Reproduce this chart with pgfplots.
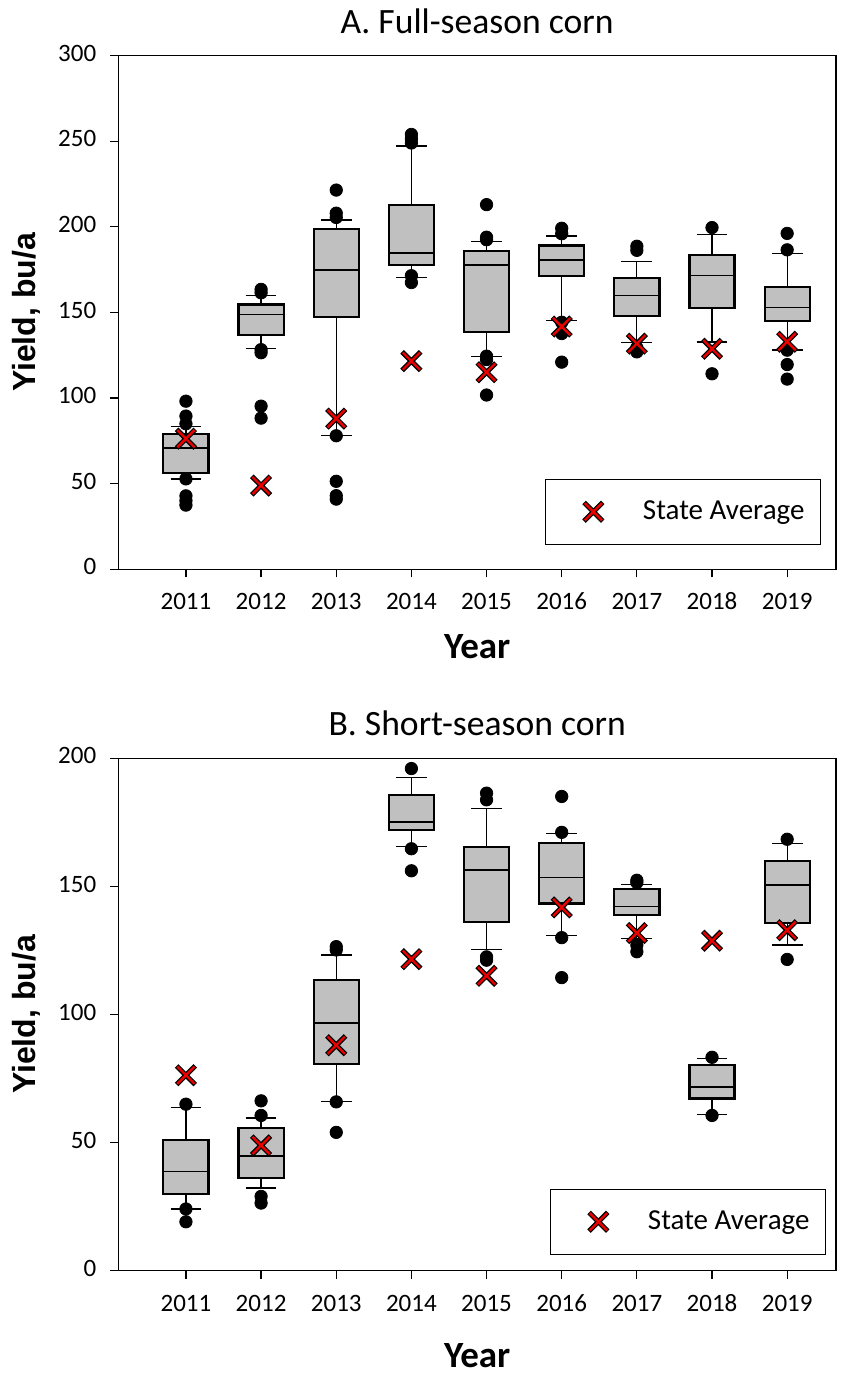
\documentclass[border=0pt]{standalone}
\usepackage{pgfplots}
\pgfplotsset{compat=1.18}
\usepgfplotslibrary{statistics}
\usepackage{fontspec}
\setmainfont{Carlito}
\newfontfamily\arial{Liberation Sans}
\definecolor{boxgray}{RGB}{192,192,192}
\definecolor{xred}{RGB}{235,0,0}
\pgfplotsset{
  bxp/.style={draw=black, solid, line width=0.6pt, mark=*, mark size=3.1pt,
    mark options={fill=black, draw=black, solid, line width=0.4pt}, forget plot,
    boxplot/draw direction=y,
    boxplot/box extend=0.6, boxplot/whisker extend=0.41,
    boxplot/every box/.style={fill=boxgray, line width=1.1pt},
    boxplot/every median/.style={line width=0.8pt},
  },
  blackx/.style={only marks, mark=x, mark size=6.6pt, forget plot,
    mark options={draw=black, line width=2.5pt}},
  redx/.style={only marks, mark=x, mark size=6.1pt,
    mark options={draw=xred, line width=1.2pt},
    legend image code/.code={
      \path (0pt,-16pt) (48pt,16pt);
      \draw[black, line width=2.5pt] (23.5pt-4.67pt,-4.67pt) -- (23.5pt+4.67pt,4.67pt)
        (23.5pt-4.67pt,4.67pt) -- (23.5pt+4.67pt,-4.67pt);
      \draw[xred, line width=1.2pt] (23.5pt-4.31pt,-4.31pt) -- (23.5pt+4.31pt,4.31pt)
        (23.5pt-4.31pt,4.31pt) -- (23.5pt+4.31pt,-4.31pt);
    }},
  myaxis/.style={
    scale only axis, width=358.85pt,
    xmin=-0.9, xmax=8.65, ymin=0,
    xtick={0,...,8}, xticklabels={2011,2012,2013,2014,2015,2016,2017,2018,2019},
    tick align=outside, xtick pos=bottom, ytick pos=left,
    major tick length=4pt,
    every tick/.style={black, line width=0.6pt},
    axis line style={line width=0.7pt},
    tick label style={font=\fontsize{12.5}{14}\selectfont},
    typeset ticklabels with strut,
    yticklabel style={xshift=-3.5pt},
    xticklabel style={yshift=-3pt},
    /pgf/number format/assume math mode=true,
    every axis title shift=0pt,
    title style={font=\fontsize{17.8}{20}\selectfont, at={(axis description cs:0.5,1)}, anchor=base, yshift=11.3pt},
    xlabel={Year},
    ylabel={Yield, bu/a},
    ylabel style={font=\arial\bfseries\fontsize{16}{18}\selectfont, at={(axis description cs:0,0.5)}, anchor=base, yshift=41.15pt},
    legend cell align=left,
    legend style={draw=black, line width=0.6pt, inner xsep=0pt, inner ysep=0pt,
      font=\fontsize{14.5}{16}\selectfont, nodes={inner sep=0pt}},
  }
}
\begin{document}
\begin{tikzpicture}
\useasboundingbox (-59.15pt,27.85pt) rectangle (369.35pt,-659.15pt);
% ---------------- A ----------------
\begin{axis}[myaxis, at={(0pt,0pt)}, anchor=north west,
  height=256.8pt, ymax=300, ytick={0,50,100,150,200,250,300},
  title={A. Full-season corn},
  xlabel style={font=\bfseries\fontsize{18.5}{20}\selectfont, at={(axis description cs:0.5,0)}, anchor=base, yshift=-44.85pt},
  legend style={at={(axis description cs:1,0)}, anchor=south east, xshift=-7.5pt, yshift=12.15pt},
]
\addplot[bxp, boxplot prepared={draw position=0, lower whisker=52.8, lower quartile=56.3, median=70.9, upper quartile=78.9, upper whisker=83.6}]
  coordinates {(0,98.2) (0,89.5) (0,85.0) (0,52.8) (0,42.9) (0,40.1) (0,37.5)};
\addplot[bxp, boxplot prepared={draw position=1, lower whisker=129.1, lower quartile=137.0, median=148.8, upper quartile=154.7, upper whisker=159.7}]
  coordinates {(0,163.5) (0,161.5) (0,128.3) (0,126.5) (0,95.3) (0,88.3)};
\addplot[bxp, boxplot prepared={draw position=2, lower whisker=78.1, lower quartile=147.2, median=174.9, upper quartile=198.6, upper whisker=204.0}]
  coordinates {(0,221.5) (0,208.0) (0,205.5) (0,78.0) (0,51.4) (0,43.0) (0,41.0)};
\addplot[bxp, boxplot prepared={draw position=3, lower whisker=170.6, lower quartile=177.9, median=184.8, upper quartile=212.8, upper whisker=247.2}]
  coordinates {(0,254.0) (0,251.5) (0,249.0) (0,171.5) (0,167.5)};
\addplot[bxp, boxplot prepared={draw position=4, lower whisker=124.1, lower quartile=138.7, median=177.7, upper quartile=186.0, upper whisker=191.7}]
  coordinates {(0,213.0) (0,194.0) (0,192.5) (0,124.5) (0,122.5) (0,101.8)};
\addplot[bxp, boxplot prepared={draw position=5, lower whisker=145.1, lower quartile=171.3, median=180.8, upper quartile=189.1, upper whisker=194.7}]
  coordinates {(0,199.2) (0,196.0) (0,144.3) (0,137.7) (0,121.0)};
\addplot[bxp, boxplot prepared={draw position=6, lower whisker=132.4, lower quartile=147.8, median=159.9, upper quartile=170.2, upper whisker=179.6}]
  coordinates {(0,188.7) (0,186.3) (0,129.4) (0,127.0)};
\addplot[bxp, boxplot prepared={draw position=7, lower whisker=132.8, lower quartile=152.6, median=171.5, upper quartile=183.6, upper whisker=195.7}]
  coordinates {(0,199.6) (0,114.2)};
\addplot[bxp, boxplot prepared={draw position=8, lower whisker=128.1, lower quartile=145.1, median=153.0, upper quartile=164.8, upper whisker=184.4}]
  coordinates {(0,196.2) (0,186.6) (0,128.0) (0,119.6) (0,111.1)};
\addplot[blackx] coordinates {(0,76.3) (1,48.9) (2,88.0) (3,121.6) (4,115.1) (5,141.8) (6,131.8) (7,128.8) (8,132.9)};
\addplot[redx] coordinates {(0,76.3) (1,48.9) (2,88.0) (3,121.6) (4,115.1) (5,141.8) (6,131.8) (7,128.8) (8,132.9)};
\addlegendentry{State Average\hspace*{8pt}}
\end{axis}
% ---------------- B ----------------
\begin{axis}[myaxis, at={(0pt,-351.3pt)}, anchor=north west,
  height=256.2pt, ymax=200, ytick={0,50,100,150,200},
  title={B. Short-season corn},
  xlabel style={font=\bfseries\fontsize{18.5}{20}\selectfont, at={(axis description cs:0.5,0)}, anchor=base, yshift=-48.5pt},
  legend style={at={(axis description cs:1,0)}, anchor=south east, xshift=-5pt, yshift=7.85pt},
]
\addplot[bxp, boxplot prepared={draw position=0, lower whisker=24.1, lower quartile=29.9, median=38.7, upper quartile=51.0, upper whisker=63.6}]
  coordinates {(0,65.0) (0,24.1) (0,19.1)};
\addplot[bxp, boxplot prepared={draw position=1, lower whisker=32.3, lower quartile=36.2, median=44.8, upper quartile=55.6, upper whisker=59.6}]
  coordinates {(0,66.3) (0,60.6) (0,29.0) (0,26.4)};
\addplot[bxp, boxplot prepared={draw position=2, lower whisker=65.9, lower quartile=80.6, median=96.7, upper quartile=113.6, upper whisker=123.2}]
  coordinates {(0,126.5) (0,125.2) (0,65.9) (0,54.0)};
\addplot[bxp, boxplot prepared={draw position=3, lower whisker=165.6, lower quartile=171.9, median=175.2, upper quartile=185.8, upper whisker=192.4}]
  coordinates {(0,196.0) (0,164.7) (0,156.1)};
\addplot[bxp, boxplot prepared={draw position=4, lower whisker=125.4, lower quartile=136.2, median=156.5, upper quartile=165.5, upper whisker=180.5}]
  coordinates {(0,186.4) (0,183.8) (0,122.5) (0,121.2)};
\addplot[bxp, boxplot prepared={draw position=5, lower whisker=130.8, lower quartile=143.3, median=153.4, upper quartile=166.9, upper whisker=170.7}]
  coordinates {(0,185.1) (0,171.1) (0,130.0) (0,114.4)};
\addplot[bxp, boxplot prepared={draw position=6, lower whisker=129.8, lower quartile=138.9, median=142.2, upper quartile=148.9, upper whisker=150.6}]
  coordinates {(0,152.4) (0,151.5) (0,127.1) (0,124.5)};
\addplot[bxp, boxplot prepared={draw position=7, lower whisker=60.9, lower quartile=67.2, median=71.8, upper quartile=80.4, upper whisker=82.7}]
  coordinates {(0,83.3) (0,60.6)};
\addplot[bxp, boxplot prepared={draw position=8, lower whisker=127.1, lower quartile=135.6, median=150.6, upper quartile=159.8, upper whisker=166.7}]
  coordinates {(0,168.4) (0,121.5)};
\addplot[blackx] coordinates {(0,76.3) (1,48.9) (2,88.0) (3,121.6) (4,115.1) (5,141.8) (6,131.8) (7,128.8) (8,132.9)};
\addplot[redx] coordinates {(0,76.3) (1,48.9) (2,88.0) (3,121.6) (4,115.1) (5,141.8) (6,131.8) (7,128.8) (8,132.9)};
\addlegendentry{State Average\hspace*{8pt}}
\end{axis}
\end{tikzpicture}
\end{document}
